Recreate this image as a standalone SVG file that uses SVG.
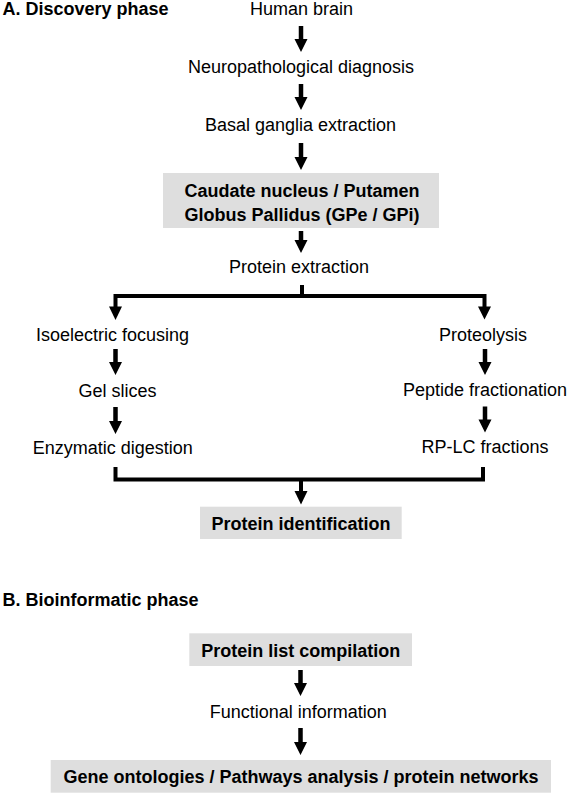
<svg xmlns="http://www.w3.org/2000/svg" width="567" height="794" viewBox="0 0 567 794">
<style>
text{font-family:"Liberation Sans",Arial,sans-serif;font-size:18px;fill:#000}
.c{text-anchor:middle}
.b{font-weight:bold}
.box{fill:#dedede}
.ln{fill:none;stroke:#000;stroke-width:4}
.ah{fill:#000}
</style>
<rect width="567" height="794" fill="#fff"/>
<text id="titleA" class="b" x="2.5" y="14.7">A. Discovery phase</text>
<text id="titleB" class="b" x="2.5" y="606">B. Bioinformatic phase</text>

<g id="connectors">
  <path class="ah" d="M298.75,26 V39 H294.5 L301,52 L307.5,39 H303.25 V26 Z"/>
  <path class="ah" d="M298.75,84 V97 H294.5 L301,110 L307.5,97 H303.25 V84 Z"/>
  <path class="ah" d="M298.75,143 V157 H294.5 L301,170 L307.5,157 H303.25 V143 Z"/>
  <path class="ah" d="M298.75,231 V240 H294.5 L301,253 L307.5,240 H303.25 V231 Z"/>
  <path class="ln" d="M302,285 V296 M115.5,296 H486.5 M115.5,294 V308 M484.5,294 V308"/>
  <path class="ah" d="M109,306.5 L115.5,320 L122,306.5 Z"/>
  <path class="ah" d="M478,306.5 L484.5,319.5 L491,306.5 Z"/>
  <path class="ah" d="M113.25,349 V362 H109 L115.5,375 L122,362 H117.75 V349 Z"/>
  <path class="ah" d="M113.25,407 V421 H109 L115.5,434 L122,421 H117.75 V407 Z"/>
  <path class="ah" d="M482.75,349 V362 H478.5 L485,375 L491.5,362 H487.25 V349 Z"/>
  <path class="ah" d="M482.75,406.5 V419.5 H478.5 L485,432.5 L491.5,419.5 H487.25 V406.5 Z"/>
  <path class="ln" d="M115.5,467 V479.5 H483 V467 M301,479.5 V492"/>
  <path class="ah" d="M294.5,491 L301,504.5 L307.5,491 Z"/>
  <path class="ah" d="M298.25,670 V683 H294 L300.5,696 L307,683 H302.75 V670 Z"/>
  <path class="ah" d="M298.25,728 V742 H294 L300.5,755 L307,742 H302.75 V728 Z"/>
</g>

<g id="n-human-brain"><text class="c" x="301.5" y="14.7">Human brain</text></g>
<g id="n-neuropath"><text class="c" x="301" y="73.3">Neuropathological diagnosis</text></g>
<g id="n-basal"><text class="c" x="300.5" y="131">Basal ganglia extraction</text></g>
<g id="n-caudate">
  <rect class="box" x="163" y="173" width="276" height="55"/>
  <text class="c b" x="302" y="196.7">Caudate nucleus / Putamen</text>
  <text class="c b" x="302" y="220.7">Globus Pallidus (GPe / GPi)</text>
</g>
<g id="n-protein-extraction"><text class="c" x="299" y="273">Protein extraction</text></g>
<g id="n-isoelectric"><text class="c" x="112.5" y="340.7">Isoelectric focusing</text></g>
<g id="n-gel"><text class="c" x="117.5" y="397.3">Gel slices</text></g>
<g id="n-enzymatic"><text class="c" x="112.8" y="454">Enzymatic digestion</text></g>
<g id="n-proteolysis"><text class="c" x="483" y="340.7">Proteolysis</text></g>
<g id="n-peptide"><text class="c" x="485" y="396">Peptide fractionation</text></g>
<g id="n-rplc"><text class="c" x="485" y="452.7">RP-LC fractions</text></g>
<g id="n-protein-id">
  <rect class="box" x="200" y="506.7" width="201.7" height="32.3"/>
  <text class="c b" x="301" y="530">Protein identification</text>
</g>
<g id="n-protein-list">
  <rect class="box" x="189.3" y="633.3" width="222.7" height="32.7"/>
  <text class="c b" x="300.7" y="656.7">Protein list compilation</text>
</g>
<g id="n-functional"><text class="c" x="298.2" y="718.3">Functional information</text></g>
<g id="n-gene">
  <rect class="box" x="50.7" y="760" width="500.3" height="32.7"/>
  <text class="c b" x="301" y="783.3">Gene ontologies / Pathways analysis / protein networks</text>
</g>
</svg>
